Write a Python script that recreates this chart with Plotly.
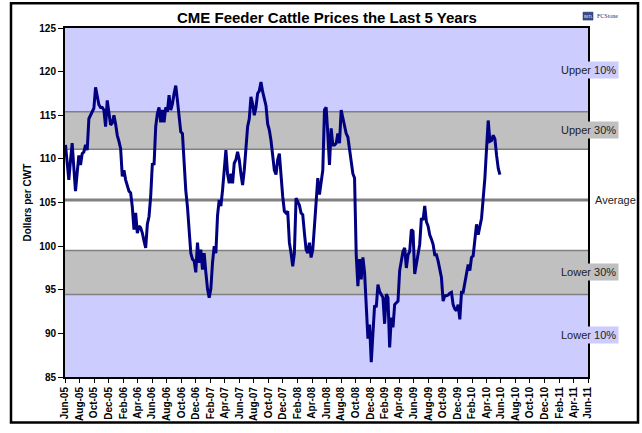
import pandas as pd
import plotly.graph_objects as go

# ---- data ----
start_date = "2005-06-03"   # weekly observations
prices = [
    111.6,109.5,107.6,109.8,111.8,109.0,106.3,108.4,110.4,109.3,
    110.6,110.8,111.6,111.0,114.6,115.0,115.5,115.8,118.2,117.1,
    116.2,115.9,115.9,115.6,113.7,116.7,115.5,113.9,114.1,115.0,
    114.0,112.7,112.0,111.2,108.0,108.7,107.6,107.0,106.3,106.1,
    104.5,101.9,103.8,101.5,102.3,102.1,101.5,100.6,99.8,102.5,
    103.4,105.7,109.5,109.3,113.7,115.2,115.9,114.2,115.6,114.2,
    115.9,115.4,117.3,115.6,116.3,117.5,118.4,116.7,114.8,113.1,
    112.9,109.1,106.4,104.5,102.3,
    99.2,98.5,98.3,97.0,100.4,98.1,99.6,97.3,99.2,97.0,95.1,94.1,95.1,98.1,100.0,99.2,
    103.5,
    105.3,104.6,106.4,108.7,111.0,108.3,107.2,108.3,107.2,109.5,109.9,110.8,109.9,108.3,
    107.0,108.7,111.4,113.7,114.6,117.1,116.3,115.0,115.9,117.5,117.8,118.8,117.7,116.7,
    116.1,114.0,113.3,
    112.1,110.2,108.7,108.2,109.9,110.6,107.6,105.7,104.0,103.8,
    104.0,100.4,99.2,97.7,99.2,105.5,105.1,104.7,103.8,103.6,
    101.5,99.6,99.2,100.4,98.7,99.6,102.3,105.3,107.8,105.9,
    107.6,108.7,115.6,115.9,112.9,109.3,113.5,111.6,111.6,111.8,
    112.9,111.8,115.6,114.8,113.7,112.9,112.5,111.2,110.1,108.3,
    107.8,
    99.0,95.4,98.5,96.2,98.7,97.0,93.9,89.4,91.0,86.7,
    90.0,93.2,93.0,95.6,94.8,94.5,94.1,91.1,94.5,94.1,
    88.4,91.8,90.7,93.3,93.5,93.7,97.2,98.5,99.4,99.8,
    97.5,99.0,99.4,101.9,101.7,96.8,97.9,99.0,100.2,103.2,
    103.0,104.6,102.8,102.3,101.3,100.8,100.2,99.0,99.0,98.3,
    97.5,96.4,93.7,94.3,94.3,94.4,94.6,94.7,93.3,92.8,
    92.6,93.3,91.6,94.7,94.7,95.8,96.4,97.9,97.2,98.7,
    98.9,100.9,102.5,101.3,102.5,103.2,105.5,107.8,111.2,114.4,
    112.0,112.1,112.7,112.3,110.4,108.9,108.2,
]
dates = pd.date_range(start_date, periods=len(prices), freq="7D")

# band levels (Dollars per CWT)
y_min, y_max = 85, 125
upper10 = 115.4
upper30 = 111.1
average = 105.3
lower30 = 99.5
lower10 = 94.45

band_labels = ["Upper 10%", "Upper 30%", "Average", "Lower 30%", "Lower 10%"]
band_label_values = [120.2, 113.3, average, 97.0, 89.8]

title_text = "CME Feeder Cattle Prices the Last 5 Years"
y_title = "Dollars per CWT"

# ---- styles ----
BLUE = "#CCCCFF"
GRAY = "#C0C0C0"
EDGE = "#808080"
NAVY = "#000080"
FONT = "Arial, Liberation Sans, sans-serif"

W, H = 642, 433
L, R, T, B = 65, 54, 28, 53
PW, PH = W - L - R, H - T - B

def px(xp):
    return (xp - L) / PW

def py(yp):
    return (H - B - yp) / PH

fig = go.Figure()
fig.add_trace(go.Scatter(
    x=dates, y=prices, mode="lines",
    line=dict(color=NAVY, width=3), hoverinfo="skip", showlegend=False))

shapes = []
for lo, hi, col in [(upper10, y_max, BLUE), (upper30, upper10, GRAY),
                    (lower10, lower30, GRAY), (y_min, lower10, BLUE)]:
    shapes.append(dict(type="rect", xref="paper", yref="y", x0=0, x1=1, y0=lo, y1=hi,
                       fillcolor=col, line=dict(width=0), layer="below"))
for lv in [upper10, upper30, lower30, lower10]:
    shapes.append(dict(type="line", xref="paper", yref="y", x0=0, x1=1, y0=lv, y1=lv,
                       line=dict(color=EDGE, width=1.5), layer="below"))
shapes.append(dict(type="line", xref="paper", yref="y", x0=0, x1=1, y0=average, y1=average,
                   line=dict(color=EDGE, width=3), layer="below"))
# outer frame
shapes.append(dict(type="rect", xref="paper", yref="paper",
                   x0=px(11), x1=px(638), y0=py(426), y1=py(3),
                   line=dict(color="black", width=2.5), fillcolor="rgba(0,0,0,0)"))
# logo emblem
shapes.append(dict(type="rect", xref="paper", yref="paper",
                   x0=px(583), x1=px(593), y0=py(20), y1=py(12),
                   line=dict(color="#1a2a6c", width=0.5), fillcolor="#3a4a8c"))

annotations = []
bgs = [BLUE, GRAY, None, GRAY, BLUE]
for lab, val, bg in zip(band_labels, band_label_values, bgs):
    if bg is None:
        annotations.append(dict(text=lab, xref="paper", yref="y", x=px(593), y=val,
                                xanchor="left", yanchor="middle", showarrow=False,
                                font=dict(family=FONT, size=11, color="#222")))
    else:
        annotations.append(dict(text=lab, xref="paper", yref="y", x=1.0, y=val,
                                xanchor="center", yanchor="middle", showarrow=False,
                                bgcolor=bg, borderpad=2,
                                font=dict(family=FONT, size=11, color="#222")))
annotations.append(dict(text=y_title, xref="paper", yref="paper", x=px(27), y=0.5,
                        textangle=-90, showarrow=False, xanchor="center", yanchor="middle",
                        font=dict(family=FONT, size=10, color="black", weight="bold")))
annotations.append(dict(text=title_text, xref="paper", yref="paper", x=0.5, y=py(17),
                        showarrow=False, xanchor="center", yanchor="middle",
                        font=dict(family=FONT, size=15, color="black", weight="bold")))
annotations.append(dict(text="INTL", xref="paper", yref="paper", x=px(588), y=py(16),
                        showarrow=False, xanchor="center", yanchor="middle",
                        font=dict(family=FONT, size=4, color="white")))
annotations.append(dict(text="FCStone", xref="paper", yref="paper", x=px(595), y=py(16),
                        showarrow=False, xanchor="left", yanchor="middle",
                        font=dict(family="Liberation Serif, serif", size=6, color="#1a2a6c")))

fig.update_layout(
    width=W, height=H,
    margin=dict(l=L, r=R, t=T, b=B, pad=0),
    paper_bgcolor="white", plot_bgcolor="white",
    shapes=shapes, annotations=annotations,
    font=dict(family=FONT, color="black"),
    xaxis=dict(
        type="date", range=["2005-06-01", "2011-06-01"],
        tick0="2005-06-01", dtick="M2", tickformat="%b-%y", tickangle=-90,
        ticks="outside", ticklen=4, tickcolor="black", tickwidth=1,
        showline=True, linecolor="black", linewidth=2, mirror=True,
        showgrid=False, zeroline=False,
        tickfont=dict(family=FONT, size=10, color="black", weight="bold"),
    ),
    yaxis=dict(
        range=[y_min, y_max], dtick=5, tick0=85,
        ticks="outside", ticklen=5, tickcolor="black", tickwidth=1,
        showline=True, linecolor="black", linewidth=2, mirror=True,
        showgrid=False, zeroline=False,
        tickfont=dict(family=FONT, size=10, color="black", weight="bold"),
    ),
)

fig.write_html(
    "out.html",
    config={"displayModeBar": False, "staticPlot": True},
    post_script="document.body.style.margin='0';document.body.style.overflow='hidden';",
)
